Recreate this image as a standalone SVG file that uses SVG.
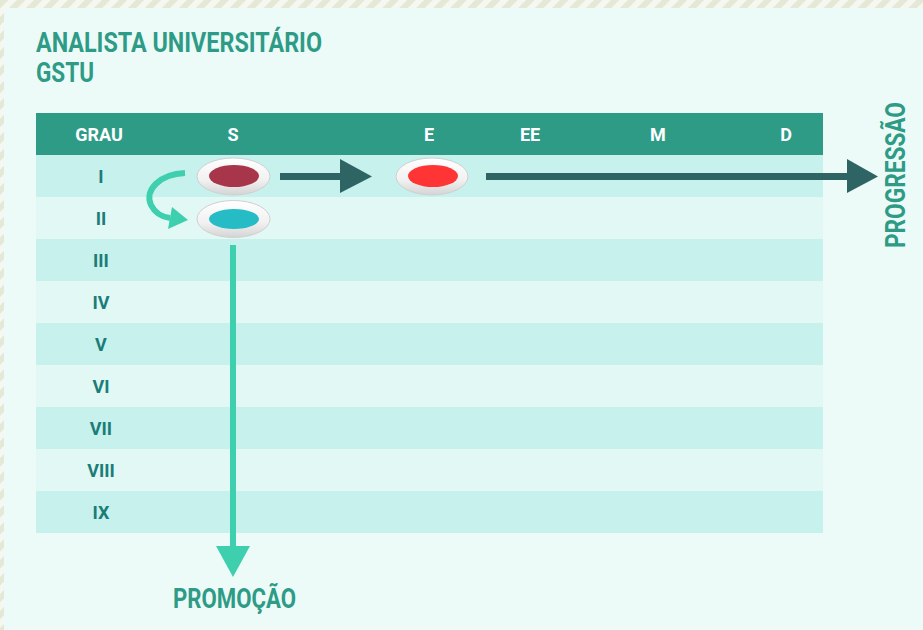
<svg xmlns="http://www.w3.org/2000/svg" width="923" height="630" viewBox="0 0 923 630">
<defs>
<pattern id="stripes" width="12" height="12" patternUnits="userSpaceOnUse" patternTransform="rotate(45)">
<rect width="12" height="12" fill="#f6f7f0"/>
<rect width="6" height="12" fill="#e3e9d6"/>
</pattern>
<linearGradient id="rim" x1="0" y1="0" x2="0" y2="1">
<stop offset="0" stop-color="#ffffff"/>
<stop offset="0.6" stop-color="#f1f1f1"/>
<stop offset="1" stop-color="#d4d4d4"/>
</linearGradient>
<style>
.t{font-family:Roboto,"Liberation Sans",sans-serif;font-weight:bold}
.title{fill:#2e9b87;font-size:28px}
.hdr{fill:#ffffff;font-size:18px;text-anchor:middle}
.row{fill:#1b7d78;font-size:18px;text-anchor:middle}
.dk{fill:#c7f1ec}
.lt{fill:#e1f8f5}
.rim{fill:url(#rim);stroke:#d0d0d0;stroke-width:1}
</style>
</defs>
<rect width="923" height="630" fill="url(#stripes)"/>
<rect x="4" y="8" width="919" height="622" fill="#edfbf8"/>
<text class="t title" x="36" y="52" textLength="286" lengthAdjust="spacingAndGlyphs">ANALISTA UNIVERSITÁRIO</text>
<text class="t title" x="36" y="82" textLength="58" lengthAdjust="spacingAndGlyphs">GSTU</text>
<g id="table">
<rect x="36" y="113" width="787" height="42" fill="#2e9b87"/>
<rect class="dk" x="36" y="155" width="787" height="42"/>
<rect class="lt" x="36" y="197" width="787" height="42"/>
<rect class="dk" x="36" y="239" width="787" height="42"/>
<rect class="lt" x="36" y="281" width="787" height="42"/>
<rect class="dk" x="36" y="323" width="787" height="42"/>
<rect class="lt" x="36" y="365" width="787" height="42"/>
<rect class="dk" x="36" y="407" width="787" height="42"/>
<rect class="lt" x="36" y="449" width="787" height="42"/>
<rect class="dk" x="36" y="491" width="787" height="42"/>
<text class="t hdr" x="99" y="141">GRAU</text>
<text class="t hdr" x="233" y="141">S</text>
<text class="t hdr" x="429" y="141">E</text>
<text class="t hdr" x="530" y="141">EE</text>
<text class="t hdr" x="658" y="141">M</text>
<text class="t hdr" x="786" y="141">D</text>
<text class="t row" x="101" y="183">I</text>
<text class="t row" x="101" y="225">II</text>
<text class="t row" x="101" y="267">III</text>
<text class="t row" x="101" y="309">IV</text>
<text class="t row" x="101" y="351">V</text>
<text class="t row" x="101" y="393">VI</text>
<text class="t row" x="101" y="435">VII</text>
<text class="t row" x="101" y="477">VIII</text>
<text class="t row" x="101" y="519">IX</text>
</g>
<g id="connectors">
<path d="M185,173 C160,174 144,190 151,205 C155,213 162,217 170,218" fill="none" stroke="#3dcfae" stroke-width="6"/>
<polygon points="172,207 168,229 188,220" fill="#3dcfae"/>
<rect x="280" y="173" width="61" height="7" fill="#2e6463"/>
<polygon points="340,159 340,193 372,176.5" fill="#2e6463"/>
<rect x="486" y="173" width="362" height="7" fill="#2e6463"/>
<polygon points="847,159 847,193 878,176.5" fill="#2e6463"/>
<rect x="230" y="245" width="6" height="302" fill="#3dcfae"/>
<polygon points="216,546 250,546 233,577" fill="#3dcfae"/>
</g>
<g id="node-s1">
<ellipse class="rim" cx="233.5" cy="176.5" rx="36.5" ry="18.5"/>
<ellipse cx="234" cy="176" rx="25" ry="11" fill="#a8364a"/>
</g>
<g id="node-e1">
<ellipse class="rim" cx="432" cy="176.5" rx="36" ry="18.5"/>
<ellipse cx="433" cy="176" rx="25" ry="11" fill="#ff3535"/>
</g>
<g id="node-s2">
<ellipse class="rim" cx="233.5" cy="219" rx="36.5" ry="18.5"/>
<ellipse cx="234" cy="219" rx="25" ry="10" fill="#25bcc6"/>
</g>
<text class="t title" x="0" y="0" transform="translate(905,248) rotate(-90)" textLength="146" lengthAdjust="spacingAndGlyphs">PROGRESSÃO</text>
<text class="t title" x="173" y="608" textLength="123" lengthAdjust="spacingAndGlyphs">PROMOÇÃO</text>
</svg>
